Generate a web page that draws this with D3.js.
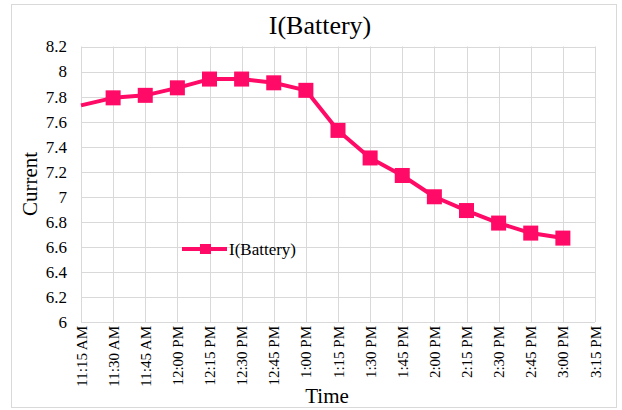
<!DOCTYPE html>
<html><head><meta charset="utf-8">
<script src="https://cdn.jsdelivr.net/npm/d3@7"></script>
<style>body{margin:0;background:#fff}svg{display:block}svg text{font-family:"Times New Roman","Liberation Serif",serif !important;fill:#000}</style>
</head><body><svg id="c" width="622" height="410"></svg>
<script>
const times = ["11:15 AM","11:30 AM","11:45 AM","12:00 PM","12:15 PM","12:30 PM","12:45 PM","1:00 PM","1:15 PM","1:30 PM","1:45 PM","2:00 PM","2:15 PM","2:30 PM","2:45 PM","3:00 PM","3:15 PM"];
const seriesTimes = ["11:15 AM","11:30 AM","11:45 AM","12:00 PM","12:15 PM","12:30 PM","12:45 PM","1:00 PM","1:15 PM","1:30 PM","1:45 PM","2:00 PM","2:15 PM","2:30 PM","2:45 PM","3:00 PM"];
const current = [7.73,7.79,7.81,7.87,7.94,7.94,7.91,7.85,7.53,7.31,7.17,7.0,6.89,6.79,6.71,6.67];
const yTicks = [6,6.2,6.4,6.6,6.8,7,7.2,7.4,7.6,7.8,8,8.2];
const seriesName = "I(Battery)";
const color = "#ff0a66";
const serif = '"Times New Roman","Liberation Serif",serif';

const svg = d3.select("#c");
const m = {l:81, r:595, t:46.5, b:322};
svg.append("rect").attr("x",11.5).attr("y",4.5).attr("width",605).attr("height",403).attr("fill","#fff").attr("stroke","#d9d9d9");

const x = d3.scalePoint().domain(times).range([m.l,m.r]);
const y = d3.scaleLinear().domain([6,8.2]).range([m.b,m.t]);

const g = svg.append("g");
g.selectAll(".hg").data(yTicks).join("line").attr("x1",m.l).attr("x2",m.r)
  .attr("y1",d=>Math.round(y(d))+0.5).attr("y2",d=>Math.round(y(d))+0.5).attr("stroke","#d9d9d9");
g.selectAll(".vg").data(times).join("line").attr("y1",m.t).attr("y2",m.b)
  .attr("x1",d=>Math.round(x(d))+0.5).attr("x2",d=>Math.round(x(d))+0.5).attr("stroke","#d9d9d9");

const yAxis = d3.axisLeft(y).tickValues(yTicks).tickSize(0).tickPadding(14).tickFormat(d3.format("~g"));
svg.append("g").attr("transform",`translate(${m.l},0)`).call(yAxis)
  .attr("font-family",null)
  .call(s=>s.select(".domain").remove())
  .selectAll("text").attr("font-size",17).style("font-family",serif);

const xAxis = d3.axisBottom(x).tickSize(0).tickPadding(0);
svg.append("g").attr("transform",`translate(0,${m.b})`).call(xAxis)
  .attr("font-family",null)
  .call(s=>s.select(".domain").remove())
  .selectAll("text").attr("font-size",15).style("font-family",serif)
  .attr("text-anchor","end").attr("dy",null).attr("y",0)
  .attr("transform","translate(5,4) rotate(-90)");

const pts = seriesTimes.map((t,i)=>({t, v:current[i]}));
svg.append("path").datum(pts).attr("fill","none").attr("stroke",color).attr("stroke-width",4)
  .attr("stroke-linejoin","round")
  .attr("d",d3.line().x(d=>x(d.t)).y(d=>y(d.v)));
const ms = 15;
// first value sits on the axis boundary; Excel shows no marker there
svg.selectAll(".mk").data(pts.slice(1)).join("rect").attr("fill",color)
  .attr("x",d=>x(d.t)-ms/2).attr("y",d=>y(d.v)-ms/2).attr("width",ms).attr("height",ms);

svg.append("text").attr("x",320).attr("y",34).attr("text-anchor","middle").attr("font-size",26).style("font-family",serif).text("I(Battery)");
svg.append("text").attr("transform","translate(37,184) rotate(-90)").attr("text-anchor","middle").attr("font-size",21).style("font-family",serif).text("Current");
svg.append("text").attr("x",327).attr("y",403).attr("text-anchor","middle").attr("font-size",21).style("font-family",serif).text("Time");

const lg = svg.append("g");
lg.append("line").attr("x1",182).attr("x2",227).attr("y1",249).attr("y2",249).attr("stroke",color).attr("stroke-width",4);
lg.append("rect").attr("x",200).attr("y",244).attr("width",11).attr("height",10).attr("fill",color);
lg.append("text").attr("x",229).attr("y",255).attr("font-size",17).style("font-family",serif).text(seriesName);
</script></body></html>
